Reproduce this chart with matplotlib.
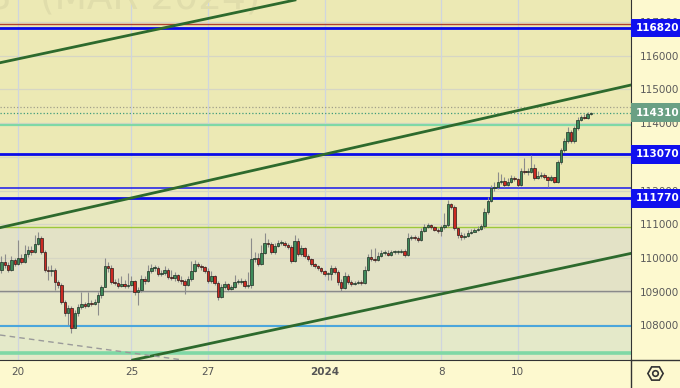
import numpy as np
import matplotlib
matplotlib.use('Agg')
import matplotlib.pyplot as plt
from matplotlib.lines import Line2D

# hourly candles (price points)
first_open = 109650
closes = [
    109880, 109790, 109650, 109940, 109820, 110000, 109880, 110120, 110240, 110180,
    110420, 110590, 110180, 109650, 109620, 109650, 109290, 109200, 108700, 108370,
    108520, 107930, 108370, 108550, 108640, 108580, 108670, 108640, 108700, 108900,
    109140, 109760, 109700, 109290, 109260, 109170, 109230, 109170, 109200, 109320,
    108990, 109050, 109380, 109320, 109620, 109700, 109700, 109530, 109560, 109650,
    109440, 109410, 109500, 109350, 109320, 109200, 109380, 109620, 109820, 109760,
    109730, 109620, 109320, 109470, 109260, 108850, 109140, 109230, 109080, 109140,
    109290, 109290, 109320, 109170, 109200, 109970, 110000, 109820, 110150, 110450,
    110420, 110180, 110360, 110450, 110450, 110390, 110330, 109910, 110500, 110120,
    110300, 110060, 109970, 109820, 109760, 109700, 109620, 109530, 109530, 109700,
    109590, 109290, 109110, 109470, 109290, 109230, 109260, 109290, 109260, 109650,
    110030, 109970, 109940, 110060, 110150, 110150, 110090, 110180, 110180, 110180,
    110210, 110090, 110590, 110620, 110590, 110530, 110800, 110920, 110980, 110920,
    110830, 110800, 110920, 110980, 111600, 111510, 110890, 110680, 110620, 110650,
    110740, 110770, 110830, 110860, 110950, 111360, 111690, 112080, 112110, 112250,
    112280, 112170, 112250, 112370, 112340, 112170, 112580, 112550, 112550, 112670,
    112370, 112430, 112460, 112400, 112310, 112400, 112250, 112850, 113200, 113470,
    113740, 113470, 113860, 114090, 114180, 114150, 114270, 114310,
]
highs = [
    110060, 110120, 109880, 110060, 110000, 110530, 110120, 110390, 110360, 110360,
    110680, 110770, 110650, 110240, 109760, 109790, 109700, 109350, 109260, 108760,
    108610, 108580, 108460, 108640, 108990, 108700, 108990, 108760, 108790, 108990,
    109200, 110000, 109880, 109790, 109380, 109410, 109470, 109350, 109560, 109470,
    109350, 109140, 109500, 109470, 109790, 109820, 109790, 109760, 109650, 109760,
    109700, 109650, 109590, 109530, 109470, 109380, 109470, 109910, 109940, 109880,
    109820, 109760, 109700, 109620, 109500, 109320, 109230, 109320, 109260, 109200,
    109500, 109380, 109410, 109380, 109590, 110590, 110180, 110150, 110390, 110740,
    110560, 110480, 110450, 110530, 110530, 110500, 110450, 110390, 110680, 110590,
    110390, 110330, 110120, 110000, 109850, 109790, 109730, 109650, 109590, 109790,
    109760, 109650, 109380, 109590, 109530, 109350, 109320, 109350, 109350, 109760,
    110120, 110270, 110300, 110180, 110240, 110240, 110240, 110240, 110240, 110240,
    110270, 110270, 110740, 110680, 110680, 110650, 110890, 111010, 111040, 111010,
    110950, 110890, 110980, 111330, 111720, 111630, 111570, 110920, 110770, 110740,
    110830, 110860, 110890, 110950, 111010, 111480, 111810, 112170, 112250, 112550,
    112490, 112400, 112370, 112460, 112430, 112370, 112670, 112970, 112670, 113050,
    112790, 112580, 112550, 112520, 112430, 112460, 112310, 112910, 113260, 113560,
    113880, 113800, 113910, 114180, 114240, 114270, 114330, 114330,
]
lows = [
    109560, 109700, 109590, 109620, 109760, 109790, 109820, 109850, 110030, 110090,
    110150, 110390, 110120, 109590, 109350, 109470, 109050, 109110, 108640, 108280,
    108010, 107780, 107990, 108280, 108490, 108520, 108550, 108580, 108610, 108310,
    108820, 109140, 109590, 109230, 109200, 109110, 109140, 109110, 109110, 109170,
    108900, 108610, 108990, 109230, 109290, 109560, 109620, 109470, 109470, 109500,
    109380, 109350, 109320, 109290, 109230, 108930, 109170, 109320, 109590, 109700,
    109650, 109560, 109260, 109260, 109200, 108760, 108820, 109080, 109020, 109050,
    109110, 109230, 109230, 109110, 109110, 109110, 109880, 109760, 109790, 110120,
    110330, 110120, 110120, 110330, 110390, 110330, 110270, 109850, 109880, 110060,
    110060, 110000, 109910, 109760, 109700, 109650, 109560, 109470, 109350, 109350,
    109530, 109200, 109020, 109080, 109230, 109170, 109200, 109230, 109200, 109230,
    109620, 109910, 109880, 109910, 110030, 110090, 110060, 110060, 110120, 110120,
    110150, 110030, 110060, 110530, 110530, 110480, 110500, 110770, 110890, 110860,
    110800, 110740, 110650, 110860, 110920, 111450, 110830, 110590, 110530, 110560,
    110620, 110710, 110770, 110800, 110830, 110890, 111300, 111660, 111990, 112050,
    112200, 112110, 112140, 112220, 112280, 112110, 112140, 112490, 112460, 112520,
    112310, 112340, 112370, 112340, 112110, 112280, 112220, 112220, 112790, 113140,
    113410, 113410, 113410, 113800, 114060, 114120, 114120, 114240,
]

# date axis (candle index of each labelled day)
day_pos = [5, 39, 62, 97, 132, 155]
day_labels = ['20', '25', '27', '2024', '8', '10']

# horizontal levels drawn on the chart
levels = [116950, 116820, 114470, 114310, 113940, 113070, 112080, 111770,
          110910, 109030, 107980, 107190]
level_colors = ['#b04030', '#0a0ae8', '#a09f8a', '#3f9a7a', '#7fd8a6', '#0a0ae8',
                '#2a2ae8', '#0a0ae8', '#9cc83a', '#8a8a8a', '#4ba6dc', '#7fd8a6']
level_widths = [1.0, 2.0, 0.9, 0.9, 1.6, 2.0, 1.2, 2.0, 1.0, 1.0, 1.5, 2.6]
level_styles = ['-', '-', ':', ':', '-', '-', '-', '-', '-', '-', '-', '-']

# tagged prices on the right scale
tags = [116820, 114310, 113070, 111770]
tag_colors = ['#1010ee', '#6aa084', '#1010ee', '#1010ee']

# trend lines: two points each (candle index, price)
trend_lines = [((-0.45, 115790), (88.1, 117650)),
               ((-0.45, 110900), (189.0, 115130)),
               ((39.4, 106976), (189.0, 110137))]
dashed_line = ((-0.45, 107717), (54.5, 106976))

# background zones (price boundaries)
zone_edges = [106976, 107980, 109030, 110910, 111770, 112080, 117650]
zone_colors = ['#e4e9c9', '#e6e7c8', '#e3e2c6', '#e8e8bf', '#eeecc2', '#ece9b4']

closes = np.array(closes, dtype=float)
opens = np.concatenate([[first_open], closes[:-1]])
highs = np.maximum(np.array(highs, dtype=float), np.maximum(opens, closes))
lows = np.minimum(np.array(lows, dtype=float), np.minimum(opens, closes))
idx = np.arange(len(closes))

fig = plt.figure(figsize=(6.8, 3.88), dpi=100, facecolor='#fdf9cf')
ax = fig.add_axes([0, 28 / 388, 631 / 680, 360 / 388])
ax.set_xlim(-0.45, 189.0)
ax.set_ylim(zone_edges[0], zone_edges[-1])

for lo, hi, col in zip(zone_edges[:-1], zone_edges[1:], zone_colors):
    ax.axhspan(lo, hi, color=col, lw=0, zorder=0)

for p in range(108000, 118000, 1000):
    ax.axhline(p, color='#d6d6c4', lw=0.9, zorder=0.6)
for d in day_pos:
    ax.axvline(d, color='#cfd5de', lw=0.9, zorder=0.6)

# faint symbol watermark, mostly above the top edge
ax.text(10 / 631, 0.975, 'S', transform=ax.transAxes, fontsize=27,
        color='#e0ddab', ha='right', va='baseline', zorder=0.7)
ax.text(40 / 631, 0.975, '(MAR 2024)', transform=ax.transAxes, fontsize=27,
        color='#e0ddab', ha='left', va='baseline', zorder=0.7)

for lv, c, w, s in zip(levels, level_colors, level_widths, level_styles):
    ax.axhline(lv, color=c, lw=w, ls=s, zorder=1)

for p1, p2 in trend_lines:
    ax.axline(p1, p2, color='#2d6a2d', lw=2, zorder=2)
ax.axline(dashed_line[0], dashed_line[1], color='#9a9a9a', lw=1, ls=(0, (4, 3)), zorder=2)

# candles
up = closes >= opens
ax.vlines(idx, lows, highs, color='#8c8c8c', lw=0.8, zorder=3)
body = np.maximum(np.abs(closes - opens), 25)
bottom = np.minimum(opens, closes)
ax.bar(idx[up], body[up], bottom=bottom[up], width=0.75, color='#3e8a5a',
       edgecolor='#1f2f24', linewidth=0.5, zorder=4)
ax.bar(idx[~up], body[~up], bottom=bottom[~up], width=0.75, color='#cc2a22',
       edgecolor='#2a1a18', linewidth=0.5, zorder=4)

# axes styling
ax.yaxis.tick_right()
ax.set_yticks(range(108000, 118000, 1000))
ax.set_yticklabels([str(v) for v in range(108000, 118000, 1000)])
ax.tick_params(axis='y', length=0, labelsize=7.5, labelcolor='#5a5a5a', pad=6)
ax.set_xticks(day_pos)
ax.set_xticklabels(day_labels)
ax.tick_params(axis='x', length=0, labelsize=7.5, labelcolor='#555555', pad=5)
for lab in ax.get_xticklabels():
    if lab.get_text() == '2024':
        lab.set_fontweight('bold')
for s in ['top', 'left']:
    ax.spines[s].set_visible(False)
ax.spines['right'].set_color('#333333')
ax.spines['bottom'].set_color('#333333')

for t, c in zip(tags, tag_colors):
    ax.text(1.007, t, str(t), transform=ax.get_yaxis_transform(), fontsize=7.5,
            fontweight='bold', color='white', ha='left', va='center', clip_on=False,
            zorder=6, bbox=dict(boxstyle='square,pad=0.42', fc=c, ec='none'))

# frame lines under the scales and the settings icon
fig.add_artist(Line2D([631 / 680, 631 / 680], [0, 28 / 388], color='#333333', lw=1,
                      transform=fig.transFigure))
fig.add_artist(Line2D([631 / 680, 1], [28 / 388, 28 / 388], color='#333333', lw=1,
                      transform=fig.transFigure))
fig.add_artist(Line2D([655 / 680], [15 / 388], marker='H', markersize=11, mfc='none',
                      mec='#333333', mew=1.2, transform=fig.transFigure))
fig.add_artist(Line2D([655 / 680], [15 / 388], marker='o', markersize=4, mfc='none',
                      mec='#333333', mew=1.2, transform=fig.transFigure))

fig.savefig('out.png', dpi=100, facecolor=fig.get_facecolor())
